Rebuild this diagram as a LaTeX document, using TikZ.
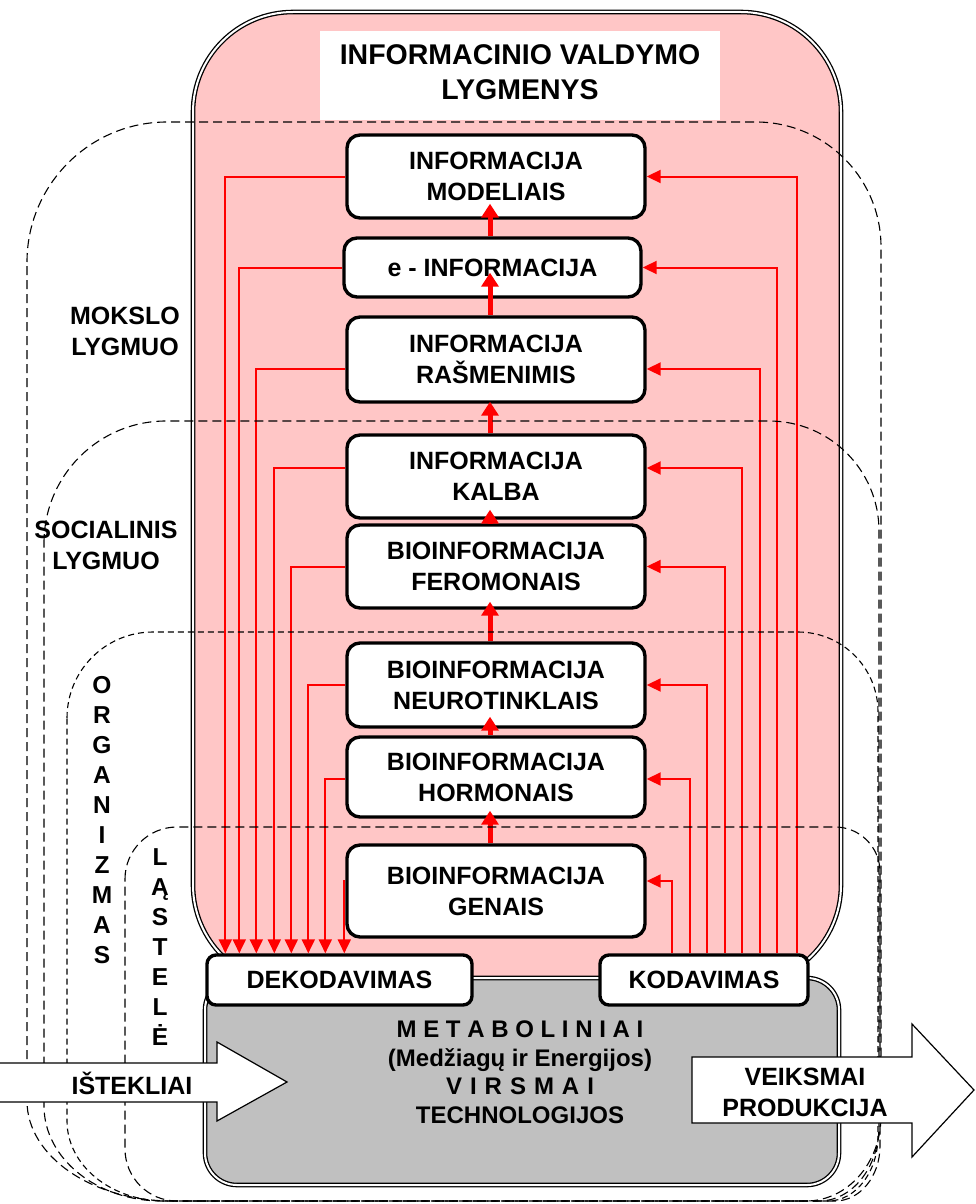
\documentclass[tikz,border=0pt]{standalone}
\usepackage{fontspec}
\setmainfont{Liberation Sans}
\usetikzlibrary{arrows.meta}
\definecolor{pinkfill}{RGB}{255,198,198}
\definecolor{grayfill}{RGB}{192,192,192}
\definecolor{flowred}{RGB}{255,0,0}
\newcommand{\bxfont}{\fontsize{25}{31}\selectfont\bfseries}
\newcommand{\ttlfont}{\fontsize{28.5}{35}\selectfont\bfseries}
\newcommand{\vertfont}{\fontsize{24.5}{30}\selectfont\bfseries}
\begin{document}
\begin{tikzpicture}[x=1pt,y=-1pt,
  infobox/.style={draw=black, line width=3.4pt, rounded corners=13pt, fill=white,
    minimum width=298pt, inner sep=0pt, align=center, font=\bxfont},
  codebox/.style={draw=black, line width=3.4pt, rounded corners=9pt, fill=white,
    minimum height=50pt, inner sep=0pt, font=\bxfont},
  plain/.style={inner sep=0pt, align=center, font=\bxfont},
  redline/.style={draw=flowred, line width=2pt, -{Triangle[length=14pt,width=13pt]}},
  uparrow/.style={draw=flowred, line width=5pt, -{Triangle[length=14pt,width=17pt]}},
  levelA/.style={draw=black, line width=1.1pt, dash pattern=on 9pt off 5pt},
  levelB/.style={draw=black, line width=1.1pt, dash pattern=on 6pt off 4pt},
  frame/.style={draw=black, line width=1.3pt, double=white, double distance=2pt},
  bigarrow/.style={fill=white, draw=black, line width=1.2pt, line join=miter}
]
\useasboundingbox (0,0) rectangle (975,1204);

% information level container and metabolic block
\draw[frame, fill=pinkfill, rounded corners=100pt] (193,12) rectangle (841,985);
\draw[frame, fill=grayfill, rounded corners=32pt] (205,978) rectangle (839,1185);

% heading
\fill[white] (320,31) rectangle (720,120);
\node[plain, font=\ttlfont] (title) at (520,72.5) {INFORMACINIO VALDYMO\\LYGMENYS};

% information boxes
\node[infobox, minimum height=83pt] (m1) at (496,176.5) {INFORMACIJA\\MODELIAIS};
\node[infobox, minimum height=59pt, minimum width=297pt] (m2) at (492.5,267.5) {e - INFORMACIJA};
\node[infobox, minimum height=85pt] (m3) at (496,359.5) {INFORMACIJA\\RAŠMENIMIS};
\node[infobox, minimum height=83pt] (m4) at (496,476.5) {INFORMACIJA\\KALBA};
\node[infobox, minimum height=83pt] (m5) at (496,566.5) {BIOINFORMACIJA\\FEROMONAIS};
\node[infobox, minimum height=84pt] (m6) at (496,685) {BIOINFORMACIJA\\NEUROTINKLAIS};
\node[infobox, minimum height=80pt] (m7) at (496,777) {BIOINFORMACIJA\\HORMONAIS};
\node[infobox, minimum height=92pt] (m8) at (496,891) {BIOINFORMACIJA\\GENAIS};

\node[codebox, minimum width=265pt] (dk) at (339.5,980) {DEKODAVIMAS};
\node[codebox, minimum width=208pt] (kd) at (704,980) {KODAVIMAS};

% decoding lines: from each box down to DEKODAVIMAS
\draw[redline] (m1.west) -| ([xshift=20pt]dk.north west);
\draw[redline] (m2.west) -| ([xshift=34pt]dk.north west);
\draw[redline] ([yshift=-9.5pt]m3.west) -| ([xshift=51pt]dk.north west);
\draw[redline] ([yshift=8.5pt]m4.west) -| ([xshift=69pt]dk.north west);
\draw[redline] (m5.west) -| ([xshift=86pt]dk.north west);
\draw[redline] (m6.west) -| ([xshift=103pt]dk.north west);
\draw[redline] ([yshift=-2pt]m7.west) -| ([xshift=120pt]dk.north west);
\draw[redline] ([yshift=10pt]m8.west) -| ([xshift=139pt]dk.north west);

% coding lines: from KODAVIMAS up to each box
\draw[redline] ([xshift=199pt]kd.north west) |- (m1.east);
\draw[redline] ([xshift=179pt]kd.north west) |- (m2.east);
\draw[redline] ([xshift=162pt]kd.north west) |- ([yshift=-9.5pt]m3.east);
\draw[redline] ([xshift=144pt]kd.north west) |- ([yshift=8.5pt]m4.east);
\draw[redline] ([xshift=127pt]kd.north west) |- (m5.east);
\draw[redline] ([xshift=109pt]kd.north west) |- (m6.east);
\draw[redline] ([xshift=92pt]kd.north west) |- ([yshift=-2pt]m7.east);
\draw[redline] ([xshift=74pt]kd.north west) |- ([yshift=10pt]m8.east);

% upward flow between levels
\draw[uparrow] ([xshift=-2.5pt]m2.north) -- ([xshift=-6pt,yshift=16pt]m1.south);
\draw[uparrow] ([xshift=-6pt]m3.north) -- ([xshift=-2.5pt,yshift=26pt]m2.south);
\draw[uparrow] ([xshift=-6pt]m4.north) -- ([xshift=-6pt,yshift=2pt]m3.south);
\draw[uparrow] ([xshift=-6pt]m5.north) -- ([xshift=-6pt,yshift=10pt]m4.south);
\draw[uparrow] ([xshift=-6pt]m6.north) -- ([xshift=-6pt,yshift=8pt]m5.south);
\draw[uparrow] ([xshift=-6pt]m7.north) -- ([xshift=-6pt,yshift=12pt]m6.south);
\draw[uparrow] ([xshift=-6pt]m8.north) -- ([xshift=-6pt,yshift=8pt]m7.south);

% dashed level outlines
\draw[levelA] (27,262) .. controls (27,184.7) and (89.7,122) .. (167,122) -- (756,122)
  .. controls (825,122) and (881,178) .. (881,247) -- (881,1116)
  .. controls (881,1163) and (847.4,1201) .. (806,1201) -- (172,1201)
  .. controls (92,1201) and (27,1156) .. (27,1101) -- cycle;
\draw[levelA] (44,543) .. controls (44,475.6) and (98.6,421) .. (166,421) -- (769,421)
  .. controls (829.8,421) and (879,470.2) .. (879,531) -- (879,1126)
  .. controls (879,1167.4) and (852.1,1201) .. (819,1201) -- (162,1201)
  .. controls (96.8,1201) and (44,1158.5) .. (44,1106) -- cycle;
\draw[levelB] (67,718) .. controls (67,670.5) and (105.5,632) .. (153,632) -- (798,632)
  .. controls (842.2,632) and (878,667.8) .. (878,712) -- (878,1136)
  .. controls (878,1171.9) and (855.6,1201) .. (828,1201) -- (165,1201)
  .. controls (110.9,1201) and (67,1165.2) .. (67,1121) -- cycle;
\draw[levelA] (125,879) .. controls (125,850.3) and (148.3,827) .. (177,827) -- (835,827)
  .. controls (859.9,827) and (880,847.1) .. (880,872) -- (880,1146)
  .. controls (880,1176.4) and (859.9,1201) .. (835,1201) -- (177,1201)
  .. controls (148.3,1201) and (125,1177.7) .. (125,1149) -- cycle;

% level names
\node[plain] (mokslo) at (125,331.5) {MOKSLO\\LYGMUO};
\node[plain] (social) at (106,545) {SOCIALINIS\\LYGMUO};
\node[plain, font=\vertfont] (organ) at (102,820) {O\\R\\G\\A\\N\\I\\Z\\M\\A\\S};
\node[plain, font=\vertfont] (lastele) at (160,947) {L\\Ą\\S\\T\\E\\L\\Ė};

% metabolic block text
\node[plain, font=\fontsize{24}{28.5}\selectfont\bfseries] (metab) at (520,1072)
  {M E T A B O L I N I A I\\(Medžiagų ir Energijos)\\V\,\,I\,\,R\,\,S\,\,M\,\,A\,\,I\\TECHNOLOGIJOS};

% inputs and outputs
\filldraw[bigarrow] (0,1063) -- (217,1063) -- (217,1042) -- (287,1082) -- (217,1121) -- (217,1102) -- (0,1102);
\node[plain] (istekliai) at (132,1083) {IŠTEKLIAI};
\filldraw[bigarrow] (692,1057) -- (912,1057) -- (912,1024) -- (974,1090) -- (912,1157) -- (912,1123) -- (692,1123) -- cycle;
\node[plain] (veiksmai) at (805,1092) {VEIKSMAI\\PRODUKCIJA};
\end{tikzpicture}
\end{document}
